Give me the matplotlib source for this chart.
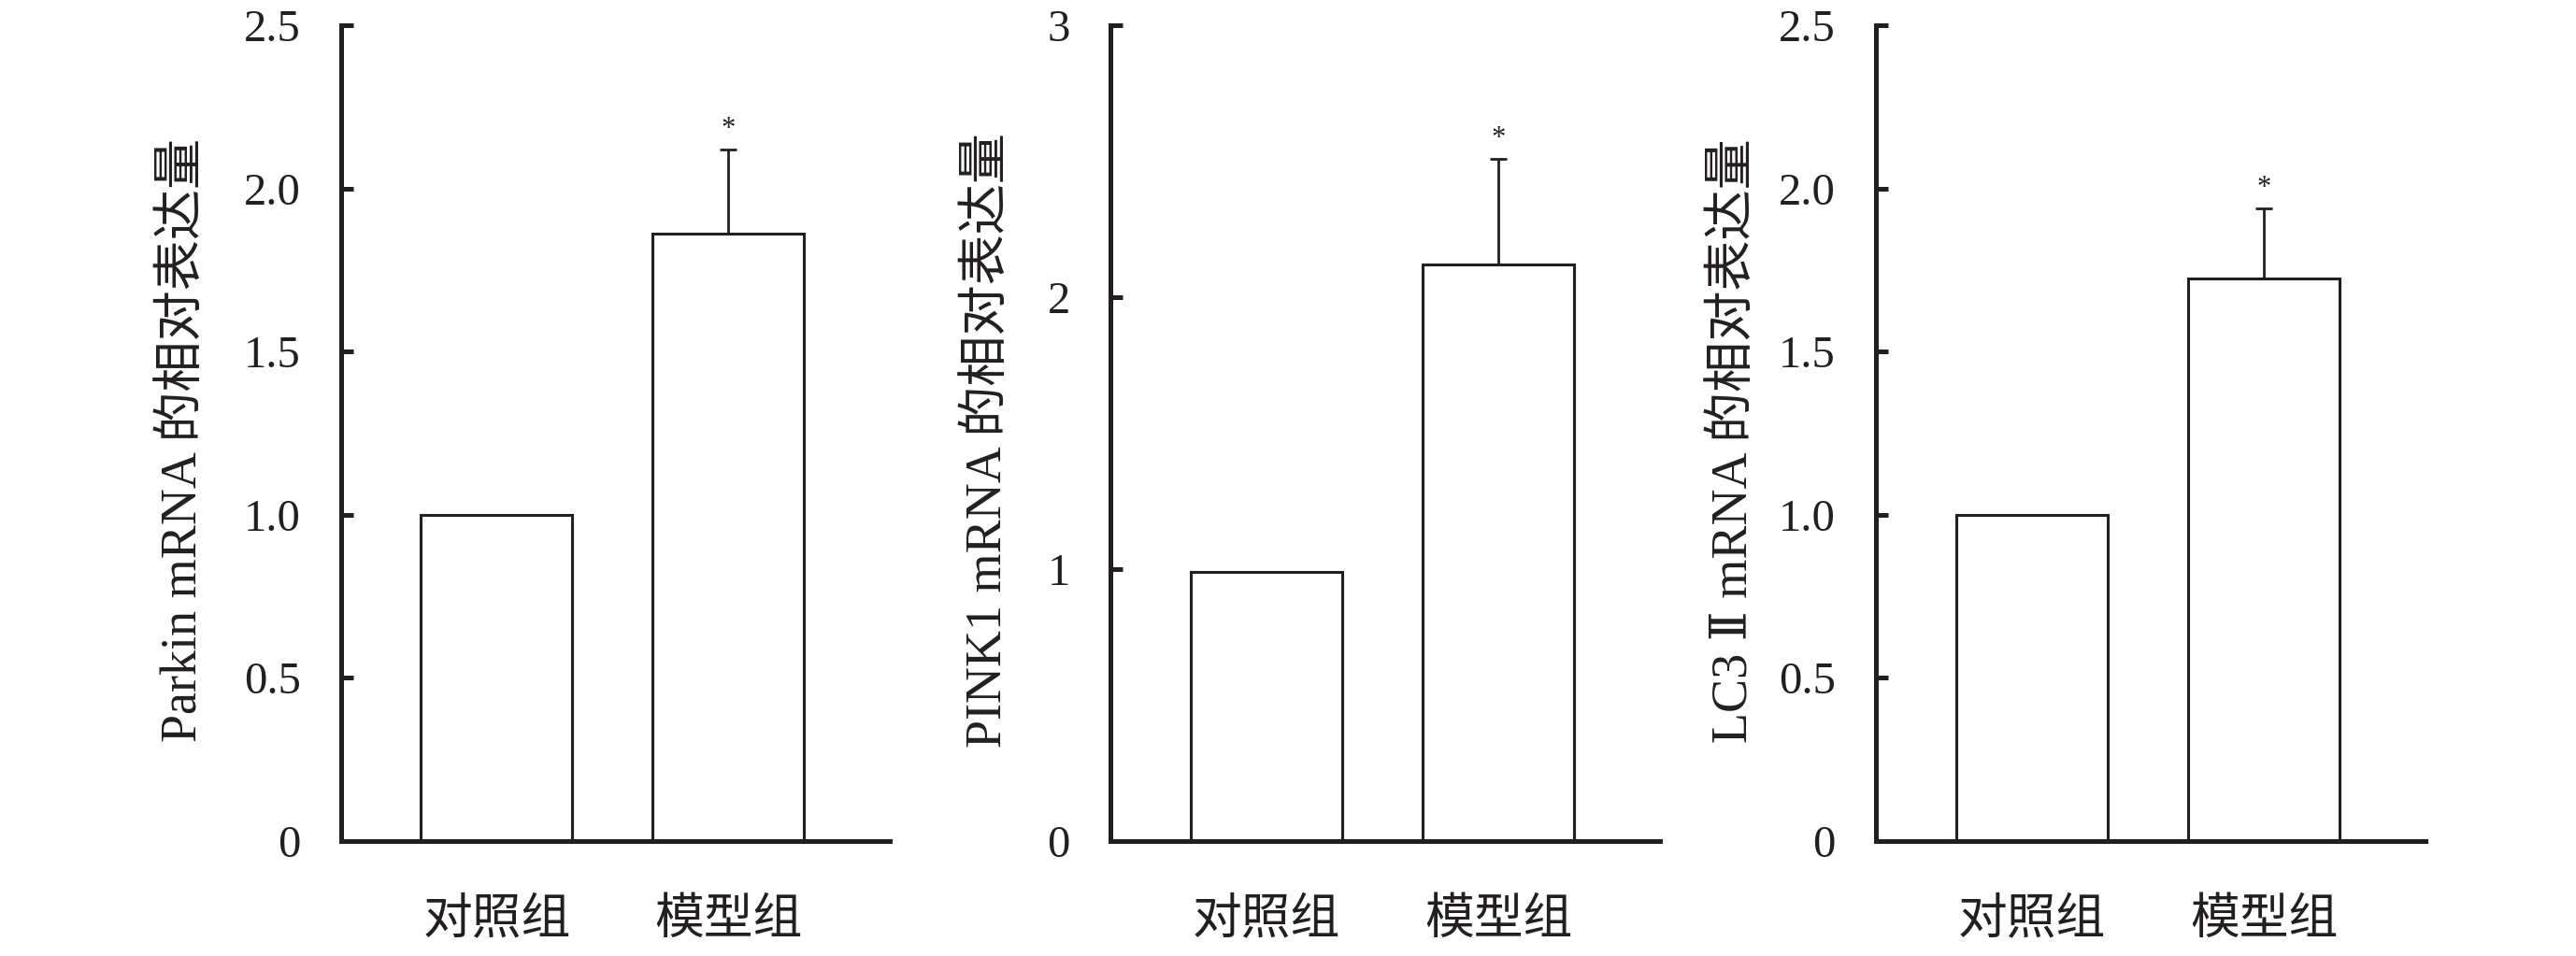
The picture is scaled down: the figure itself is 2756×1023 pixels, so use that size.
import numpy as np
import matplotlib.pyplot as plt

plt.rcParams['font.family'] = ['Liberation Serif', 'DejaVu Serif', 'Noto Sans CJK SC']

# data
groups = ['对照组', '模型组']
parkin = [1.0, 1.86]
parkin_err = [0.0, 0.26]
pink1 = [0.99, 2.12]
pink1_err = [0.0, 0.39]
lc3 = [1.0, 1.725]
lc3_err = [0.0, 0.215]

ylabels = ['Parkin mRNA 的相对表达量', 'PINK1 mRNA 的相对表达量', 'LC3 Ⅱ mRNA 的相对表达量']
yticks_a = [0, 0.5, 1.0, 1.5, 2.0, 2.5]
yticklabels_a = ['0', '0.5', '1.0', '1.5', '2.0', '2.5']
yticks_b = [0, 1, 2, 3]
yticklabels_b = ['0', '1', '2', '3']

ink = '#231f20'
W, H = 2756, 1023
fig = plt.figure(figsize=(W / 100, H / 100), dpi=100)

lefts = [365, 1188, 2007]
widths = [587, 588, 588]
top_px, base_px = 27, 900
label_x = [-0.287, -0.222, -0.258]

panels = [
    (parkin, parkin_err, yticks_a, yticklabels_a),
    (pink1, pink1_err, yticks_b, yticklabels_b),
    (lc3, lc3_err, yticks_a, yticklabels_a),
]

x = np.arange(len(groups))
for i, (vals, errs, yt, ytl) in enumerate(panels):
    ax = fig.add_axes([lefts[i] / W, (H - base_px) / H, widths[i] / W, (base_px - top_px) / H])
    vals = np.array(vals)
    errs = np.array(errs)
    m = errs > 0
    ax.errorbar(x[m], vals[m], yerr=[np.zeros(m.sum()), errs[m]], fmt='none',
                ecolor=ink, elinewidth=2.0, capsize=6.8, capthick=2.0, zorder=1)
    ax.bar(x, vals, width=0.653, color='white', edgecolor=ink, linewidth=2.2, zorder=2)
    for xi, v, e in zip(x[m], vals[m], errs[m]):
        ax.annotate('*', xy=(xi, v + e), xytext=(0, 10), textcoords='offset points',
                    ha='center', va='baseline', fontsize=22, color=ink)

    ax.set_xlim(-0.671, 1.696)
    ax.set_ylim(yt[0], yt[-1])
    ax.set_yticks(yt)
    ax.set_yticklabels(ytl, fontsize=35, color=ink)
    ax.set_xticks(x)
    ax.set_xticklabels(groups, fontsize=38, color=ink, family=['Noto Sans CJK SC'])
    ax.tick_params(axis='y', direction='in', length=9.5, width=3.6, color=ink, pad=31)
    ax.tick_params(axis='x', length=0, pad=40)

    for s in ['top', 'right']:
        ax.spines[s].set_visible(False)
    for s in ['left', 'bottom']:
        ax.spines[s].set_linewidth(3.6)
        ax.spines[s].set_color(ink)

    ax.set_ylabel(ylabels[i], fontsize=39, color=ink, va='center')
    ax.yaxis.set_label_coords(label_x[i], 0.491)

fig.savefig('out.png', dpi=100, facecolor='white')
